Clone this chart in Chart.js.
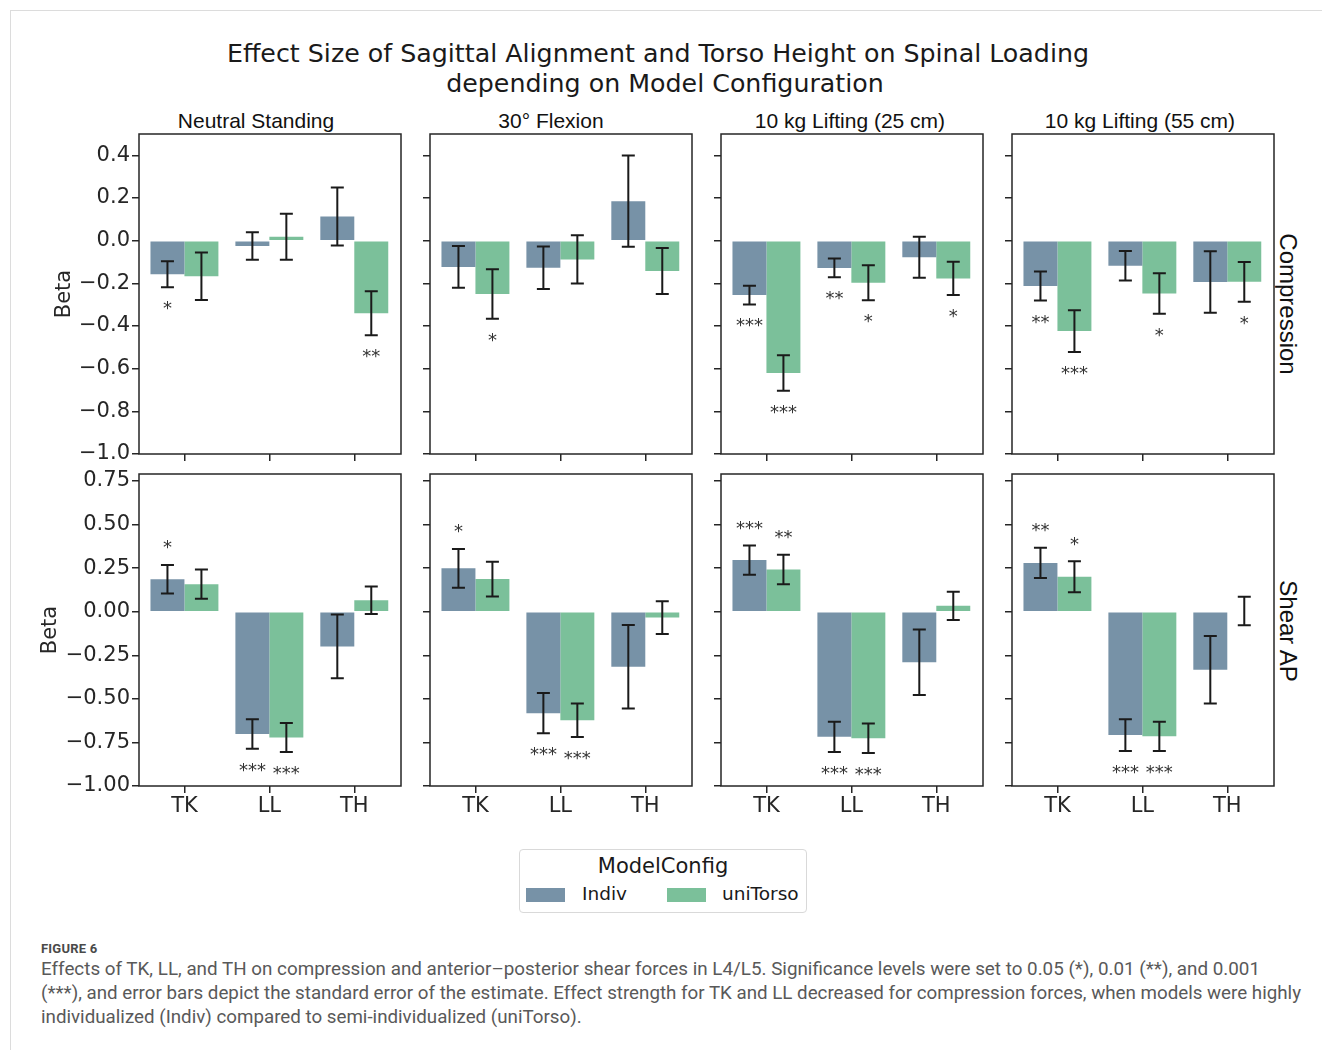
<!DOCTYPE html>
<html><head><meta charset="utf-8">
<script src="https://cdn.jsdelivr.net/npm/chart.js@4.4.1/dist/chart.umd.min.js"></script>
<style>
html,body{margin:0;padding:0;background:#fff;}
body{width:1322px;height:1050px;overflow:hidden;position:relative;font-family:'DejaVu Sans',sans-serif;color:#1a1a1a;}
canvas{position:absolute;}
.abs{position:absolute;white-space:nowrap;}
#outer{position:absolute;left:10px;top:10px;width:1400px;height:1100px;border:1px solid #dcdcdc;}
#mainTitle{position:absolute;left:-3px;top:39px;width:1322px;text-align:center;font-size:25.3px;line-height:30px;font-family:'DejaVu Sans';color:#1a1a1a;}
#mainTitle .l2{position:relative;left:7px;}
.colTitle{position:absolute;width:400px;text-align:center;font-family:'Liberation Sans',Arial,sans-serif;font-size:21px;line-height:24px;top:109px;color:#111;}
.rowLabel{position:absolute;font-family:'Liberation Sans',Arial,sans-serif;font-size:24px;line-height:24px;transform:translate(-50%,-50%) rotate(90deg);white-space:nowrap;color:#111;}
#legend{position:absolute;left:519px;top:849px;width:288px;height:64px;box-sizing:border-box;border:1px solid #d9d9d9;border-radius:4px;background:#fff;}
#legend .lt{position:absolute;left:0;width:286px;top:4px;text-align:center;font-size:21px;line-height:24px;color:#1a1a1a;}
#legend .patch{position:absolute;top:38px;width:39px;height:14px;}
#legend .lab{position:absolute;top:33px;font-size:18.5px;line-height:22px;color:#1a1a1a;}
.fig{position:absolute;left:41px;top:941px;font-family:'Liberation Sans Narrow','Roboto','Liberation Sans',sans-serif;font-size:13px;font-weight:bold;color:#4a4a4a;letter-spacing:0.2px;}
.cap{position:absolute;left:41px;font-family:'Liberation Sans Narrow','Roboto','Liberation Sans',sans-serif;font-size:17.5px;line-height:20px;color:#595959;transform-origin:0 50%;white-space:nowrap;display:inline-block;}
</style></head><body>
<div id="outer"></div>
<div id="mainTitle">Effect Size of Sagittal Alignment and Torso Height on Spinal Loading<br><span class="l2">depending on Model Configuration</span></div>
<div id="titles"></div>
<div id="legend"></div>
<div class="fig">FIGURE 6</div>
<div class="cap" id="cap1" style="top:959px">Effects of TK, LL, and TH on compression and anterior–posterior shear forces in L4/L5. Significance levels were set to 0.05 (*), 0.01 (**), and 0.001</div>
<div class="cap" id="cap2" style="top:983px">(***), and error bars depict the standard error of the estimate. Effect strength for TK and LL decreased for compression forces, when models were highly</div>
<div class="cap" id="cap3" style="top:1007px">individualized (Indiv) compared to semi-individualized (uniTorso).</div>
<script>
// ---------- data ----------
const panels = ['Neutral Standing', '30° Flexion', '10 kg Lifting (25 cm)', '10 kg Lifting (55 cm)'];
const rows = ['Compression', 'Shear AP'];
const categories = ['TK', 'LL', 'TH'];
const configs = ['Indiv', 'uniTorso'];

// Compression betas per panel [TK, LL, TH]
const compIndiv   = [[-0.157, -0.025, 0.113], [-0.123, -0.127, 0.185], [-0.255, -0.128, -0.078], [-0.213, -0.118, -0.194]];
const compIndivSE = [[0.061, 0.064, 0.136], [0.098, 0.100, 0.214], [0.044, 0.044, 0.096], [0.068, 0.069, 0.144]];
const compIndivSig = [['*', '', ''], ['', '', ''], ['***', '**', ''], ['**', '', '']];
const compUni     = [[-0.167, 0.018, -0.340], [-0.250, -0.088, -0.142], [-0.620, -0.197, -0.177], [-0.424, -0.248, -0.193]];
const compUniSE   = [[0.111, 0.108, 0.103], [0.116, 0.113, 0.108], [0.083, 0.082, 0.078], [0.098, 0.095, 0.093]];
const compUniSig  = [['', '', '**'], ['*', '', ''], ['***', '*', '*'], ['***', '*', '*']];

// Shear AP betas per panel [TK, LL, TH]
const shearIndiv   = [[0.186, -0.702, -0.199], [0.249, -0.582, -0.316], [0.296, -0.718, -0.290], [0.280, -0.708, -0.333]];
const shearIndivSE = [[0.082, 0.085, 0.183], [0.111, 0.115, 0.240], [0.084, 0.087, 0.188], [0.087, 0.091, 0.194]];
const shearIndivSig = [['*', '***', ''], ['*', '***', ''], ['***', '***', ''], ['**', '***', '']];
const shearUni     = [[0.158, -0.722, 0.066], [0.187, -0.623, -0.034], [0.242, -0.726, 0.034], [0.201, -0.715, 0.004]];
const shearUniSE   = [[0.084, 0.083, 0.079], [0.100, 0.096, 0.094], [0.085, 0.084, 0.081], [0.089, 0.084, 0.082]];
const shearUniSig  = [['', '***', ''], ['', '***', ''], ['**', '***', ''], ['*', '***', '']];

const yTicksComp  = [0.4, 0.2, 0.0, -0.2, -0.4, -0.6, -0.8, -1.0];
const yTicksShear = [0.75, 0.50, 0.25, 0.00, -0.25, -0.50, -0.75, -1.00];
const yRangeComp  = [-1.0, 0.5];
const yRangeShear = [-1.0, 0.79];

// ---------- styling / layout ----------
const colors = ['#7792a7', '#7bc09a'];
const ink = '#262626';
const colLeft = [139, 430, 721, 1012];
const plotW = 262;
const rowTop = [134, 474];
const rowH = [320, 312];
const titleCenters = [256, 551, 850, 1140];
const rowLabelCenters = [304, 631];

const rowData = [
  {vals: [compIndiv, compUni], se: [compIndivSE, compUniSE], sig: [compIndivSig, compUniSig], ticks: yTicksComp, range: yRangeComp, dec: 1},
  {vals: [shearIndiv, shearUni], se: [shearIndivSE, shearUniSE], sig: [shearIndivSig, shearUniSig], ticks: yTicksShear, range: yRangeShear, dec: 2}
];

const fmt = (v, d) => v.toFixed(d).replace('-', '\u2212');

const decor = {
  id: 'decor',
  afterDatasetsDraw(chart) {
    const ctx = chart.ctx, y = chart.scales.y;
    chart.data.datasets.forEach((ds, di) => {
      const meta = chart.getDatasetMeta(di);
      meta.data.forEach((el, j) => {
        const v = ds.data[j].y, se = ds.se[j];
        const yHi = y.getPixelForValue(v + se), yLo = y.getPixelForValue(v - se);
        ctx.save();
        ctx.strokeStyle = '#1a1a1a';
        ctx.lineWidth = 2;
        ctx.beginPath();
        ctx.moveTo(el.x, yHi); ctx.lineTo(el.x, yLo);
        ctx.moveTo(el.x - 6.5, yHi); ctx.lineTo(el.x + 6.5, yHi);
        ctx.moveTo(el.x - 6.5, yLo); ctx.lineTo(el.x + 6.5, yLo);
        ctx.stroke();
        const s = ds.sig[j];
        if (s) {
          ctx.fillStyle = '#333';
          ctx.font = '18px "DejaVu Sans"';
          ctx.textAlign = 'center';
          ctx.textBaseline = 'alphabetic';
          const by = v < 0 ? yLo + 27 : yHi - 11.5;
          ctx.fillText(s, el.x, by);
        }
        ctx.restore();
      });
    });
  },
  afterDraw(chart) {
    const a = chart.chartArea, ctx = chart.ctx;
    ctx.save();
    ctx.strokeStyle = ink;
    ctx.lineWidth = 1.5;
    ctx.strokeRect(a.left, a.top, a.right - a.left, a.bottom - a.top);
    ctx.restore();
  }
};

for (let r = 0; r < 2; r++) {
  for (let c = 0; c < 4; c++) {
    const rd = rowData[r];
    const padL = c === 0 ? 109 : 16, padR = 4, padT = 18, padB = r === 1 ? 44 : 18;
    const cv = document.createElement('canvas');
    const W = plotW + padL + padR, H = rowH[r] + padT + padB;
    cv.width = W; cv.height = H;
    cv.style.left = (colLeft[c] - padL) + 'px';
    cv.style.top = (rowTop[r] - padT) + 'px';
    cv.style.width = W + 'px'; cv.style.height = H + 'px';
    document.body.appendChild(cv);

    const datasets = configs.map((name, k) => ({
      label: name,
      data: categories.map((cat, i) => ({x: i, y: rd.vals[k][c][i]})),
      se: rd.se[k][c],
      sig: rd.sig[k][c],
      backgroundColor: colors[k],
      borderWidth: 0,
      categoryPercentage: 0.8,
      barPercentage: 1.0
    }));

    new Chart(cv, {
      type: 'bar',
      data: {datasets},
      plugins: [decor],
      options: {
        responsive: false,
        animation: false,
        devicePixelRatio: 1,
        layout: {padding: {top: padT, right: padR, left: 0, bottom: 0}},
        plugins: {legend: {display: false}, tooltip: {enabled: false}, title: {display: false}},
        scales: {
          x: {
            type: 'linear',
            min: -0.535, max: 2.55,
            offset: false,
            afterBuildTicks: s => { s.ticks = categories.map((cat, i) => ({value: i})); },
            afterFit: s => { s.height = padB; },
            ticks: {
              display: r === 1,
              callback: v => categories[v],
              font: {family: "'DejaVu Sans'", size: 21},
              color: ink, padding: 1, autoSkip: false, maxRotation: 0
            },
            grid: {display: true, offset: false, drawOnChartArea: false, drawTicks: true, tickLength: 7, color: ink, lineWidth: 1.5},
            border: {display: false}
          },
          y: {
            type: 'linear',
            min: rd.range[0], max: rd.range[1],
            afterBuildTicks: s => { s.ticks = rd.ticks.map(v => ({value: v})); },
            afterFit: s => { s.width = padL; },
            ticks: {
              display: c === 0,
              callback: v => fmt(v, rd.dec),
              font: {family: "'DejaVu Sans'", size: 21},
              color: ink, padding: 2, autoSkip: false
            },
            grid: {display: true, drawOnChartArea: false, drawTicks: true, tickLength: 7, color: ink, lineWidth: 1.5},
            border: {display: false},
            title: {
              display: c === 0, text: 'Beta', color: ink,
              font: {family: "'DejaVu Sans'", size: 21},
              padding: {top: r === 0 ? 22 : 8, bottom: 0}
            }
          }
        }
      }
    });
  }
}

// column titles and row labels
const tdiv = document.getElementById('titles');
panels.forEach((p, c) => {
  const d = document.createElement('div');
  d.className = 'colTitle';
  d.style.left = (titleCenters[c] - 200) + 'px';
  d.textContent = p;
  tdiv.appendChild(d);
});
rows.forEach((rname, r) => {
  const d = document.createElement('div');
  d.className = 'rowLabel';
  d.style.left = '1288px';
  d.style.top = rowLabelCenters[r] + 'px';
  d.textContent = rname;
  tdiv.appendChild(d);
});

// legend
const lg = document.getElementById('legend');
lg.innerHTML = '<div class="lt">ModelConfig</div>';
const patchX = [6, 147], labX = [62, 202];
configs.forEach((name, k) => {
  const p = document.createElement('div');
  p.className = 'patch';
  p.style.left = patchX[k] + 'px';
  p.style.background = colors[k];
  lg.appendChild(p);
  const l = document.createElement('div');
  l.className = 'lab';
  l.style.left = labX[k] + 'px';
  l.textContent = name;
  lg.appendChild(l);
});

// caption fitting
function fitCaption() {
  const c1 = document.getElementById('cap1'), c2 = document.getElementById('cap2'), c3 = document.getElementById('cap3');
  const s1 = 1219 / c1.getBoundingClientRect().width;
  const s2 = 1260 / c2.getBoundingClientRect().width;
  c1.style.transform = 'scaleX(' + s1 + ')';
  c2.style.transform = 'scaleX(' + s2 + ')';
  c3.style.transform = 'scaleX(' + s2 + ')';
}
fitCaption();
</script>
</body></html>
